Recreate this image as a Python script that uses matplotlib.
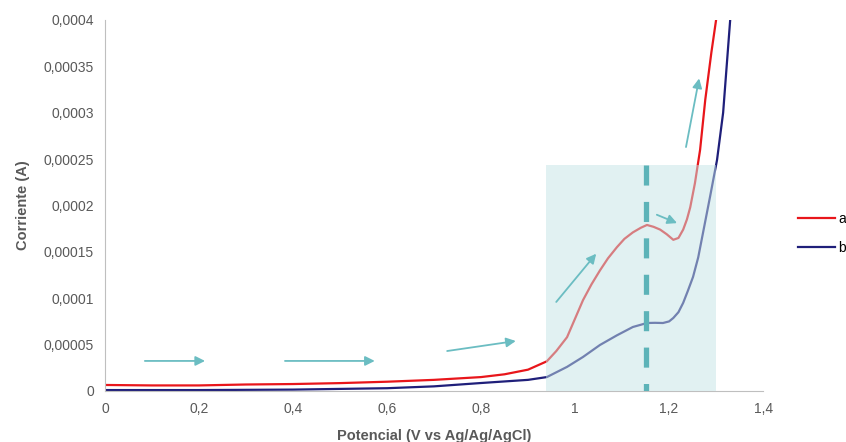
import matplotlib
matplotlib.use("Agg")
from matplotlib import pyplot as plt
from matplotlib.ticker import FuncFormatter, MultipleLocator
from matplotlib.patches import Rectangle
import numpy as np

plt.rcParams['font.family'] = ['Liberation Sans', 'DejaVu Sans']

# curve a (red)
x_a = [0, 0.1, 0.2, 0.3, 0.4, 0.5, 0.6, 0.7, 0.8, 0.85, 0.9, 0.94, 0.96, 0.983, 1.0,
       1.017, 1.035, 1.053, 1.07, 1.089, 1.105, 1.123, 1.14, 1.153, 1.167, 1.181,
       1.195, 1.209, 1.22, 1.23, 1.238, 1.245, 1.255, 1.266, 1.277, 1.29, 1.30, 1.31]
y_a = [0.65, 0.6, 0.6, 0.7, 0.75, 0.85, 1.0, 1.2, 1.5, 1.8, 2.3, 3.2, 4.3, 5.8, 7.8,
       9.8, 11.5, 13.0, 14.3, 15.5, 16.4, 17.1, 17.6, 17.9, 17.7, 17.4,
       16.9, 16.3, 16.5, 17.4, 18.5, 19.8, 22.4, 26.0, 31.4, 36.5, 40.0, 44.0]

# curve b (blue)
x_b = [0, 0.2, 0.4, 0.6, 0.7, 0.8, 0.9, 0.94, 0.983, 1.017, 1.053, 1.089, 1.123, 1.153,
       1.17, 1.187, 1.2, 1.209, 1.22, 1.23, 1.24, 1.251, 1.262, 1.272, 1.287, 1.302,
       1.315, 1.33, 1.34]
y_b = [0.1, 0.1, 0.15, 0.3, 0.5, 0.86, 1.2, 1.5, 2.6, 3.67, 4.96, 6.0, 6.9, 7.33,
       7.35, 7.33, 7.5, 7.87, 8.5, 9.5, 10.8, 12.3, 14.4, 17.0, 20.9, 24.9,
       30.0, 40.0, 46.0]

# arrows: (x0, y0, x1, y1), y in 1e-5 A
arrows = [(0.085, 3.24, 0.213, 3.24),
          (0.383, 3.24, 0.574, 3.24),
          (0.728, 4.31, 0.874, 5.39),
          (0.96, 9.6, 1.045, 14.8),
          (1.174, 19.0, 1.217, 18.1),
          (1.236, 26.3, 1.264, 33.7)]

box_x = (0.938, 1.30)
box_top = 24.4
peak_x = 1.151

teal = '#6bbdc2'
grey = '#595959'

fig = plt.figure(figsize=(8.46, 4.42), dpi=100)
ax = fig.add_axes([0.124, 0.1154, 0.778, 0.8394])

ax.plot(x_a, np.array(y_a) * 1e-5, color='#e8161b', lw=1.6, label='a', zorder=2)
ax.plot(x_b, np.array(y_b) * 1e-5, color='#1f1f7a', lw=1.6, label='b', zorder=2)

ax.add_patch(Rectangle((box_x[0], 0), box_x[1] - box_x[0], box_top * 1e-5,
                       facecolor='#c5e4e6', alpha=0.5, edgecolor='none', zorder=3))
# drawn top -> bottom so the dash pattern starts at the box top
ax.plot([peak_x, peak_x], [box_top * 1e-5, 0], color='#5cb3b8', lw=3.8,
        dashes=(3.8, 3.1), zorder=4)

for x0, y0, x1, y1 in arrows:
    ax.annotate('', xy=(x1, y1 * 1e-5), xytext=(x0, y0 * 1e-5),
                arrowprops=dict(arrowstyle='-|>', color=teal, lw=1.3,
                                mutation_scale=14, shrinkA=0, shrinkB=0),
                zorder=5)

ax.set_xlim(0, 1.4)
ax.set_ylim(0, 0.0004)
ax.xaxis.set_major_locator(MultipleLocator(0.2))
ax.yaxis.set_major_locator(MultipleLocator(0.00005))


def fmt(v, pos):
    s = f"{v:.5f}".rstrip('0').rstrip('.')
    return s.replace('.', ',')


ax.xaxis.set_major_formatter(FuncFormatter(fmt))
ax.yaxis.set_major_formatter(FuncFormatter(fmt))
ax.tick_params(length=0, labelsize=10, labelcolor=grey, pad=8)

for side in ['top', 'right']:
    ax.spines[side].set_visible(False)
for side in ['left', 'bottom']:
    ax.spines[side].set_color('#bfbfbf')

ax.set_xlabel('Potencial (V vs Ag/Ag/AgCl)', fontsize=10.5, fontweight='bold',
              color=grey, labelpad=9)
ax.set_ylabel('Corriente (A)', fontsize=10.5, fontweight='bold', color=grey,
              labelpad=10)

ax.legend(loc='center left', bbox_to_anchor=(1.053, 0.4245), frameon=False,
          borderaxespad=0, borderpad=0, handlelength=2.65, handletextpad=0.25,
          fontsize=10, labelspacing=1.1)

fig.savefig('out.png', dpi=100)
